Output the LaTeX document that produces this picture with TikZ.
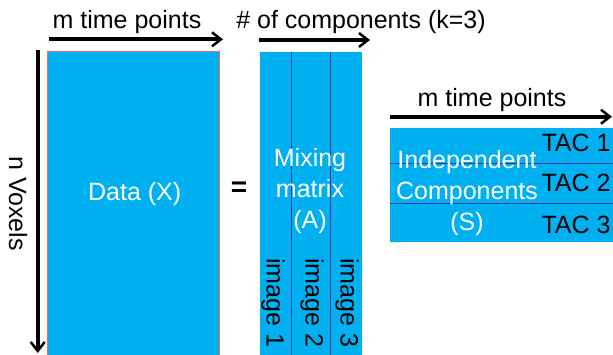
\documentclass[tikz,border=0pt]{standalone}
\usepackage{fontspec}
\setmainfont{Liberation Sans}
\usetikzlibrary{arrows.meta}
\definecolor{cyanfill}{HTML}{00B0F0}
\definecolor{sepblue}{HTML}{2B3C9C}
\begin{document}
\begin{tikzpicture}[x=1pt,y=-1pt,
  box/.style={fill=cyanfill, draw=none, inner sep=0pt, outer sep=0pt, anchor=north west},
  axis/.style={line width=3.7pt, -{Straight Barb[length=9pt,width=14pt,line width=2.5pt]}},
  lbl/.style={font=\fontsize{25}{30}\selectfont, inner sep=0pt},
  wlbl/.style={lbl, text=white, align=center, font=\fontsize{25}{31}\selectfont},
  sep/.style={draw=sepblue, line width=1.2pt}]
\useasboundingbox (0,0) rectangle (613,354);
% matrices
\node[box, minimum width=171.3pt, minimum height=310pt, draw=red!60, line width=0.6pt] (X) at (47.7,51.7) {};
\node[box, minimum width=101.7pt, minimum height=310pt] (A) at (260,51.7) {};
\node[box, minimum width=223pt, minimum height=114.3pt] (S) at (390,127.7) {};
% separators
\draw[sep] (291.7,51.7) -- (291.7,360);
\draw[sep] (330.7,51.7) -- (330.7,360);
\draw[sep] (390,163.3) -- (613,163.3);
\draw[sep] (390,203.3) -- (613,203.3);
% axis arrows
\coordinate (t1s) at (49,39.3);  \coordinate (t1e) at (223,39.3);
\coordinate (t2s) at (259,40);   \coordinate (t2e) at (370,40);
\coordinate (t3s) at (390,116.7); \coordinate (t3e) at (612,116.7);
\coordinate (vs) at (37.7,50);   \coordinate (ve) at (37.7,353);
\draw[axis] (t1s) -- (t1e);
\draw[axis] (t2s) -- (t2e);
\draw[axis] (t3s) -- (t3e);
\draw[axis] (vs) -- (ve);
% axis labels
\node[lbl, anchor=base] (m1) at (127,28) {m time points};
\node[lbl, anchor=base] (k) at (361,28) {\# of components (k=3)};
\node[lbl, anchor=base] (m2) at (492,106.7) {m time points};
\node[lbl, rotate=-90] (n) at (18,203.5) {n Voxels};
% texts in matrices
\node[wlbl, anchor=base] (Xt) at (134.7,200) {Data (X)};
\node[wlbl] (At) at (310,191.5) {Mixing\\matrix\\(A)};
\node[wlbl] (St) at (467,193.4) {Independent\\Components\\(S)};
\node[lbl] (tac1) at (576,143.3) {TAC 1};
\node[lbl] (tac2) at (576,183.3) {TAC 2};
\node[lbl] (tac3) at (576,225) {TAC 3};
\node[lbl, rotate=-90, anchor=west] (im1) at (273,258) {image 1};
\node[lbl, rotate=-90, anchor=west] (im2) at (312,258) {image 2};
\node[lbl, rotate=-90, anchor=west] (im3) at (347,258) {image 3};
\node[font=\bfseries\fontsize{28}{30}\selectfont, inner sep=0pt] (eq) at (239,189) {=};
\end{tikzpicture}
\end{document}
